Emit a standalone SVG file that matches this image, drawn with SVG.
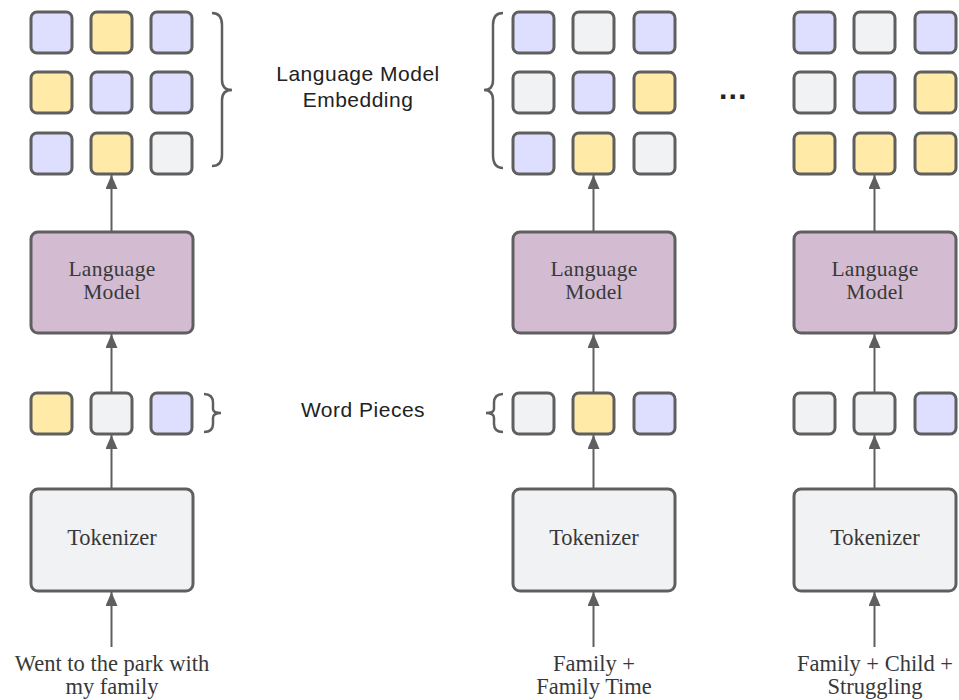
<svg xmlns="http://www.w3.org/2000/svg" width="959" height="700" viewBox="0 0 959 700">
<defs>
<style>
.sq{stroke:#5f5f5f;stroke-width:3}
.L{fill:#dedeff}.Y{fill:#ffeaa8}.G{fill:#f1f2f4}
.box{stroke:#5f5f5f;stroke-width:3}
.lm{fill:#d3bcd2}.tk{fill:#f1f2f4}
.ser{font-family:"Liberation Serif","Times New Roman",serif;font-size:22.5px;fill:#383838;text-anchor:middle}
.lmt{font-size:21.5px;letter-spacing:0.3px}
.san{font-family:"Liberation Sans",Arial,sans-serif;font-size:21px;letter-spacing:0.5px;fill:#222;text-anchor:middle}
.br{fill:none;stroke:#5f5f5f;stroke-width:2.5}
.ar{stroke:#5f5f5f;stroke-width:2;fill:none;marker-end:url(#ah)}
</style>
<marker id="ah" viewBox="0 0 14 12" refX="14" refY="6" markerWidth="14" markerHeight="12" markerUnits="userSpaceOnUse" orient="auto">
<path d="M0,0 L14,6 L0,12 Z" fill="#5f5f5f"/>
</marker>
</defs>
<rect width="959" height="700" fill="#ffffff"/>

<g id="connectors">
<line class="ar" x1="111.5" y1="647" x2="111.5" y2="592"/>
<line class="ar" x1="111.5" y1="489" x2="111.5" y2="435"/>
<line class="ar" x1="111.5" y1="393" x2="111.5" y2="334"/>
<line class="ar" x1="111.5" y1="232" x2="111.5" y2="175"/>
<line class="ar" x1="593.5" y1="647" x2="593.5" y2="592"/>
<line class="ar" x1="593.5" y1="489" x2="593.5" y2="435"/>
<line class="ar" x1="593.5" y1="393" x2="593.5" y2="334"/>
<line class="ar" x1="593.5" y1="232" x2="593.5" y2="175"/>
<line class="ar" x1="874.5" y1="647" x2="874.5" y2="592"/>
<line class="ar" x1="874.5" y1="489" x2="874.5" y2="435"/>
<line class="ar" x1="874.5" y1="393" x2="874.5" y2="334"/>
<line class="ar" x1="874.5" y1="232" x2="874.5" y2="175"/>
</g>

<g id="emb1">
<rect class="sq L" x="31" y="12" width="41" height="41" rx="6"/>
<rect class="sq Y" x="91" y="12" width="41" height="41" rx="6"/>
<rect class="sq L" x="151" y="12" width="41" height="41" rx="6"/>
<rect class="sq Y" x="31" y="72" width="41" height="41" rx="6"/>
<rect class="sq L" x="91" y="72" width="41" height="41" rx="6"/>
<rect class="sq L" x="151" y="72" width="41" height="41" rx="6"/>
<rect class="sq L" x="31" y="133" width="41" height="41" rx="6"/>
<rect class="sq Y" x="91" y="133" width="41" height="41" rx="6"/>
<rect class="sq G" x="151" y="133" width="41" height="41" rx="6"/>
</g>
<g id="emb2">
<rect class="sq L" x="513" y="12" width="41" height="41" rx="6"/>
<rect class="sq G" x="573" y="12" width="41" height="41" rx="6"/>
<rect class="sq L" x="634" y="12" width="41" height="41" rx="6"/>
<rect class="sq G" x="513" y="72" width="41" height="41" rx="6"/>
<rect class="sq L" x="573" y="72" width="41" height="41" rx="6"/>
<rect class="sq Y" x="634" y="72" width="41" height="41" rx="6"/>
<rect class="sq L" x="513" y="133" width="41" height="41" rx="6"/>
<rect class="sq Y" x="573" y="133" width="41" height="41" rx="6"/>
<rect class="sq G" x="634" y="133" width="41" height="41" rx="6"/>
</g>
<g id="emb3">
<rect class="sq L" x="794" y="12" width="41" height="41" rx="6"/>
<rect class="sq G" x="854" y="12" width="41" height="41" rx="6"/>
<rect class="sq L" x="915" y="12" width="41" height="41" rx="6"/>
<rect class="sq G" x="794" y="72" width="41" height="41" rx="6"/>
<rect class="sq L" x="854" y="72" width="41" height="41" rx="6"/>
<rect class="sq Y" x="915" y="72" width="41" height="41" rx="6"/>
<rect class="sq Y" x="794" y="133" width="41" height="41" rx="6"/>
<rect class="sq Y" x="854" y="133" width="41" height="41" rx="6"/>
<rect class="sq Y" x="915" y="133" width="41" height="41" rx="6"/>
</g>

<g id="brace-emb1"><path class="br" d="M212,13 Q222,13 222,25 L222,80 Q222,90 232,90 Q222,90 222,100 L222,155 Q222,166 212,166"/></g>
<g id="brace-emb2"><path class="br" d="M503,13 Q493,13 493,25 L493,80 Q493,90 484,90 Q493,90 493,100 L493,155 Q493,168 503,168"/></g>
<g id="brace-wp1"><path class="br" d="M204,394 Q213,394 213,403 L213,409 Q213,413 221,413 Q213,413 213,418 L213,424 Q213,432 204,432"/></g>
<g id="brace-wp2"><path class="br" d="M503,394 Q494,394 494,403 L494,409 Q494,413 486,413 Q494,413 494,418 L494,424 Q494,432 503,432"/></g>

<g id="label-emb"><text class="san" x="358" y="81">Language Model</text><text class="san" x="358" y="107">Embedding</text></g>
<g id="label-wp"><text class="san" x="363" y="417">Word Pieces</text></g>
<g id="dots"><text class="san" x="733" y="99" style="font-size:30px;font-weight:bold">…</text></g>

<g id="wp1">
<rect class="sq Y" x="31" y="393" width="41" height="41" rx="6"/>
<rect class="sq G" x="91" y="393" width="41" height="41" rx="6"/>
<rect class="sq L" x="151" y="393" width="41" height="41" rx="6"/>
</g>
<g id="wp2">
<rect class="sq G" x="513" y="393" width="41" height="41" rx="6"/>
<rect class="sq Y" x="573" y="393" width="41" height="41" rx="6"/>
<rect class="sq L" x="634" y="393" width="41" height="41" rx="6"/>
</g>
<g id="wp3">
<rect class="sq G" x="794" y="393" width="41" height="41" rx="6"/>
<rect class="sq G" x="854" y="393" width="41" height="41" rx="6"/>
<rect class="sq L" x="915" y="393" width="41" height="41" rx="6"/>
</g>

<g id="lm1"><rect class="box lm" x="31" y="232" width="162" height="101" rx="7"/><text class="ser lmt" x="112" y="276">Language</text><text class="ser lmt" x="112" y="299">Model</text></g>
<g id="lm2"><rect class="box lm" x="513" y="232" width="162" height="101" rx="7"/><text class="ser lmt" x="594" y="276">Language</text><text class="ser lmt" x="594" y="299">Model</text></g>
<g id="lm3"><rect class="box lm" x="794" y="232" width="162" height="101" rx="7"/><text class="ser lmt" x="875" y="276">Language</text><text class="ser lmt" x="875" y="299">Model</text></g>

<g id="tk1"><rect class="box tk" x="31" y="489" width="162" height="102" rx="7"/><text class="ser" x="112" y="545">Tokenizer</text></g>
<g id="tk2"><rect class="box tk" x="513" y="489" width="162" height="102" rx="7"/><text class="ser" x="594" y="545">Tokenizer</text></g>
<g id="tk3"><rect class="box tk" x="794" y="489" width="162" height="102" rx="7"/><text class="ser" x="875" y="545">Tokenizer</text></g>

<g id="in1"><text class="ser" x="112" y="671">Went to the park with</text><text class="ser" x="112" y="694">my family</text></g>
<g id="in2"><text class="ser" x="594" y="671">Family +</text><text class="ser" x="594" y="694">Family Time</text></g>
<g id="in3"><text class="ser" x="875" y="671">Family + Child +</text><text class="ser" x="875" y="694">Struggling</text></g>
</svg>
